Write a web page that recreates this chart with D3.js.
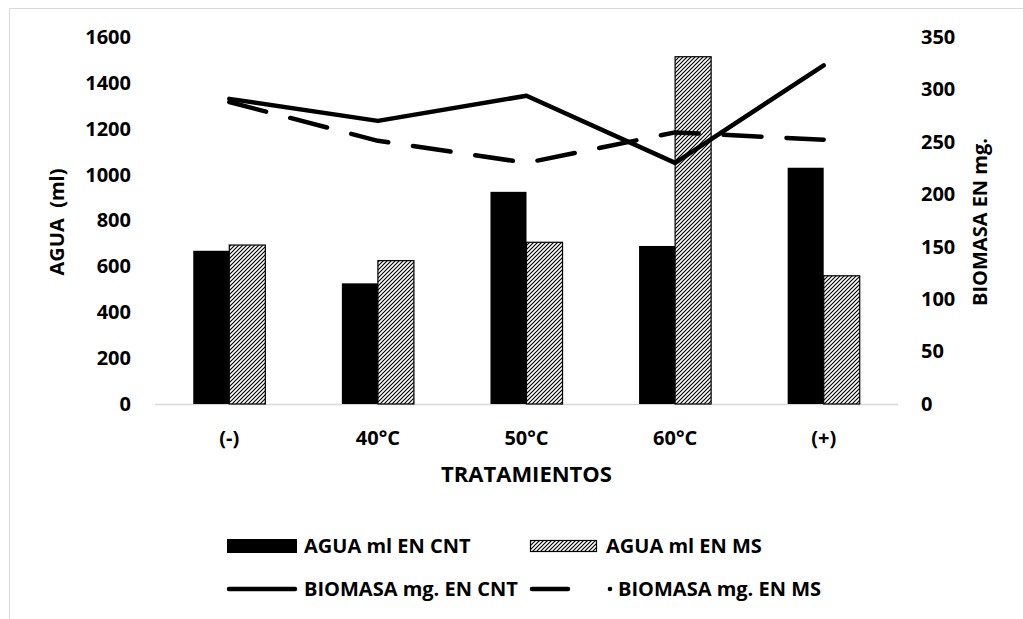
<!DOCTYPE html>
<html>
<head>
<meta charset="utf-8">
<script src="https://cdn.jsdelivr.net/npm/d3@7"></script>
<style>
  html, body { margin: 0; padding: 0; background: #fff; }
  svg { display: block; font-family: "Open Sans", "DejaVu Sans", sans-serif; font-weight: 700; }
</style>
</head>
<body>
<svg id="chart" width="1023" height="619"></svg>
<script>
// Treatments on the x axis
const categories = ["(-)", "40°C", "50°C", "60°C", "(+)"];

// Water (ml), left axis – bars
const aguaCNT = [668, 526, 925, 689, 1030];
const aguaMS  = [693, 625, 705, 1514, 559];

// Biomass (mg), right axis – lines
const biomasaCNT = [291, 270, 294, 230, 323];
const biomasaMS  = [288, 251, 230, 259, 252];

// Tick values
const leftTicks  = [0, 200, 400, 600, 800, 1000, 1200, 1400, 1600];
const rightTicks = [0, 50, 100, 150, 200, 250, 300, 350];

const seriesNames = ["AGUA ml EN CNT", "AGUA ml EN MS", "BIOMASA mg. EN CNT", "BIOMASA mg. EN MS"];

const svg = d3.select("#chart");

// outer chart frame
svg.append("path")
  .attr("d", "M9.5,619 V8.5 H1023")
  .attr("fill", "none")
  .attr("stroke", "#d9d9d9")
  .attr("stroke-width", 1);

// hatch pattern for the MS bars
const defs = svg.append("defs");
const pat = defs.append("pattern")
  .attr("id", "hatch")
  .attr("patternUnits", "userSpaceOnUse")
  .attr("width", 4).attr("height", 4);
pat.append("rect").attr("width", 4).attr("height", 4).attr("fill", "#fff");
pat.append("path")
  .attr("d", "M-1,1 L1,-1 M0,4 L4,0 M3,5 L5,3")
  .attr("stroke", "#000")
  .attr("stroke-width", 1.15);

const plot = { left: 155, right: 898, top: 37, bottom: 404 };

const x = d3.scaleBand()
  .domain(categories)
  .range([plot.left, plot.right])
  .paddingInner(0.515)
  .paddingOuter(0.2575);

const xSub = d3.scaleBand()
  .domain(["CNT", "MS"])
  .range([0, x.bandwidth()]);

const yL = d3.scaleLinear().domain([0, 1600]).range([plot.bottom, plot.top]);
const yR = d3.scaleLinear().domain([0, 350]).range([plot.bottom, plot.top]);

// baseline
svg.append("line")
  .attr("x1", plot.left).attr("x2", plot.right)
  .attr("y1", plot.bottom + 0.5).attr("y2", plot.bottom + 0.5)
  .attr("stroke", "#d9d9d9").attr("stroke-width", 1.5);

const styleTicks = g => g.selectAll("text")
  .attr("font-size", 20).attr("font-family", "Open Sans").attr("font-weight", 700)
  .attr("fill", "#000");

// left axis
const gL = svg.append("g")
  .attr("transform", `translate(${plot.left - 24},0)`)
  .call(d3.axisLeft(yL).tickValues(leftTicks).tickFormat(d3.format("d")).tickSize(0).tickPadding(0));
gL.select(".domain").remove();
styleTicks(gL);

// right axis
const gR = svg.append("g")
  .attr("transform", `translate(${plot.right + 23},0)`)
  .call(d3.axisRight(yR).tickValues(rightTicks).tickFormat(d3.format("d")).tickSize(0).tickPadding(0));
gR.select(".domain").remove();
styleTicks(gR);

// bottom axis (category labels)
const gB = svg.append("g")
  .attr("transform", `translate(0,${plot.bottom})`)
  .call(d3.axisBottom(x).tickSize(0).tickPadding(27));
gB.select(".domain").remove();
styleTicks(gB);

// axis titles
svg.append("text")
  .attr("x", (plot.left + plot.right) / 2).attr("y", 482)
  .attr("text-anchor", "middle").attr("font-size", 22)
  .text("TRATAMIENTOS");

svg.append("text")
  .attr("transform", "translate(64,222) rotate(-90)")
  .attr("text-anchor", "middle").attr("font-size", 20)
  .attr("xml:space", "preserve")
  .text("AGUA  (ml)");

svg.append("text")
  .attr("transform", "translate(987,222) rotate(-90)")
  .attr("text-anchor", "middle").attr("font-size", 20)
  .text("BIOMASA EN mg.");

// bars
const barData = categories.map((c, i) => [
  { cat: c, key: "CNT", v: aguaCNT[i] },
  { cat: c, key: "MS", v: aguaMS[i] }
]).flat();

svg.append("g").selectAll("rect")
  .data(barData)
  .join("rect")
  .attr("x", d => x(d.cat) + xSub(d.key))
  .attr("y", d => yL(d.v))
  .attr("width", xSub.bandwidth())
  .attr("height", d => yL(0) - yL(d.v))
  .attr("fill", d => d.key === "CNT" ? "#000" : "url(#hatch)")
  .attr("stroke", d => d.key === "CNT" ? "none" : "#000")
  .attr("stroke-width", 1.2);

// lines
const cx = c => x(c) + x.bandwidth() / 2;
const line = d3.line().x(d => cx(d.cat)).y(d => yR(d.v));

svg.append("path")
  .datum(categories.map((c, i) => ({ cat: c, v: biomasaCNT[i] })))
  .attr("d", line)
  .attr("fill", "none").attr("stroke", "#000")
  .attr("stroke-width", 4.5).attr("stroke-linejoin", "round").attr("stroke-linecap", "round");

svg.append("path")
  .datum(categories.map((c, i) => ({ cat: c, v: biomasaMS[i] })))
  .attr("d", line)
  .attr("fill", "none").attr("stroke", "#000")
  .attr("stroke-width", 4.5).attr("stroke-linejoin", "round").attr("stroke-linecap", "round")
  .attr("stroke-dasharray", "38,25");

// legend
const leg = svg.append("g").attr("font-size", 20);

leg.append("rect").attr("x", 227).attr("y", 539).attr("width", 70).attr("height", 14).attr("fill", "#000");
leg.append("text").attr("x", 304).attr("y", 553).text(seriesNames[0]);

leg.append("rect").attr("x", 530.5).attr("y", 540.5).attr("width", 66).attr("height", 11)
  .attr("fill", "url(#hatch)").attr("stroke", "#000").attr("stroke-width", 1.2);
leg.append("text").attr("x", 606).attr("y", 553).text(seriesNames[1]);

leg.append("line").attr("x1", 229).attr("x2", 295).attr("y1", 589).attr("y2", 589)
  .attr("stroke", "#000").attr("stroke-width", 4.5).attr("stroke-linecap", "round");
leg.append("text").attr("x", 304).attr("y", 596).text(seriesNames[2]);

leg.append("line").attr("x1", 532).attr("x2", 568).attr("y1", 589).attr("y2", 589)
  .attr("stroke", "#000").attr("stroke-width", 4.5).attr("stroke-linecap", "round");
leg.append("circle").attr("cx", 610).attr("cy", 589).attr("r", 2.3).attr("fill", "#000");
leg.append("text").attr("x", 618).attr("y", 596).text(seriesNames[3]);
</script>
</body>
</html>
